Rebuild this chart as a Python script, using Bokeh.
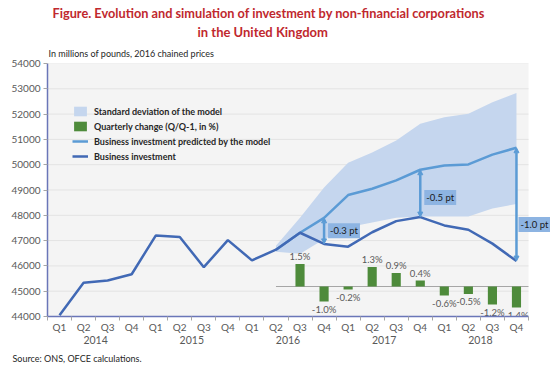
from bokeh.plotting import figure
from bokeh.models import (Range1d, LinearAxis, FixedTicker, Label, Arrow, NormalHead,
                          ColumnDataSource, Legend, LegendItem, Title)
from bokeh.embed import file_html
from bokeh.resources import INLINE
from bokeh.core.properties import value

# ---------------- data ----------------
years = ["2014", "2015", "2016", "2017", "2018"]
quarters = ["Q1", "Q2", "Q3", "Q4"]

investment = [44050, 45330, 45420, 45670, 47200, 47140, 45950, 47020,
              46220, 46640, 47310, 46870, 46760, 47330, 47770, 47930,
              47600, 47430, 46880, 46190]

pred_start = ("2016", "Q2")
predicted = [46640, 47310, 47900, 48800, 49050, 49380, 49800, 49970, 50010, 50400, 50670]
band_upper = [46800, 47900, 49100, 50080, 50480, 50960, 51620, 51880, 52010, 52470, 52830]
band_lower = [46560, 46480, 47050, 47530, 47720, 47900, 47950, 47950, 47950, 48270, 48450]

chg_start = ("2016", "Q3")
quarterly_change = [1.5, -1.0, -0.2, 1.3, 0.9, 0.4, -0.6, -0.5, -1.2, -1.4]

gap_periods = [("2016", "Q4"), ("2017", "Q4"), ("2018", "Q4")]
gap_labels = ["-0.3 pt", "-0.5 pt", "-1.0 pt"]

y_ticks = list(range(44000, 54001, 1000))

# ---------------- derived positions ----------------
periods = [(y, q) for y in years for q in quarters]
idx = list(range(len(periods)))
p0 = periods.index(pred_start)
pred_idx = idx[p0:p0 + len(predicted)]
c0 = periods.index(chg_start)
chg_idx = idx[c0:c0 + len(quarterly_change)]
x_lo, x_hi = -0.5, len(periods) - 0.5

FONT = "Lato"
GRAY = "#595959"
AXIS_BLUE = "#6a76b8"

W, H = 550, 369
LEFT, TOP, BOTTOM = 47, 63, 53
px_per_unit = 24.05
p = figure(width=W, height=H, output_backend="svg", toolbar_location=None,
           x_range=Range1d(x_lo, x_lo + (W - LEFT) / px_per_unit),
           y_range=Range1d(y_ticks[0], y_ticks[-1]),
           min_border_left=LEFT, min_border_right=0, min_border_top=TOP,
           min_border_bottom=BOTTOM,
           background_fill_color="white", border_fill_color="white",
           outline_line_color=None)
p.extra_y_ranges = {"chg": Range1d(-2.0, 14.87)}

# plot area background and grid (limited to the category span)
p.quad(left=x_lo, right=x_hi, bottom=y_ticks[0], top=y_ticks[-1],
       fill_color="#f4f4f4", line_color=None)
p.segment(x0=[x_lo] * len(y_ticks), x1=[x_hi] * len(y_ticks), y0=y_ticks, y1=y_ticks,
          line_color="#e3e3e3", line_width=1)
p.xgrid.visible = False
p.ygrid.visible = False

# x axis: quarters
xa = p.xaxis[0]
xa.bounds = (x_lo, x_hi)
xa.ticker = FixedTicker(ticks=idx, minor_ticks=[i - 0.5 for i in range(len(periods) + 1)])
xa.major_label_overrides = {i: q for i, (y, q) in enumerate(periods)}
xa.major_tick_out = 0
xa.major_tick_in = 0
xa.minor_tick_out = 4
xa.minor_tick_in = 0
xa.minor_tick_line_color = "#a6a6a6"
xa.axis_line_color = AXIS_BLUE
xa.axis_line_width = 1.5
xa.major_label_standoff = 0
xa.major_label_text_font = FONT
xa.major_label_text_font_size = "10px"
xa.major_label_text_color = GRAY

# second x axis: years
year_ticks = [years.index(y) * 4 + 1.5 for y in years]
ya2 = LinearAxis(ticker=FixedTicker(ticks=year_ticks),
                 major_label_overrides={t: y for t, y in zip(year_ticks, years)})
ya2.axis_line_color = None
ya2.major_tick_line_color = None
ya2.minor_tick_line_color = None
ya2.major_label_standoff = -6
ya2.major_label_text_font = FONT
ya2.major_label_text_font_size = "10.5px"
ya2.major_label_text_color = GRAY
p.add_layout(ya2, "below")

# y axis
yax = p.yaxis[0]
yax.ticker = FixedTicker(ticks=y_ticks)
yax.major_tick_out = 4
yax.major_tick_in = 0
yax.major_tick_line_color = "#a6a6a6"
yax.axis_line_color = AXIS_BLUE
yax.axis_line_width = 1.5
yax.major_label_standoff = 3
yax.major_label_text_font = FONT
yax.major_label_text_font_size = "10px"
yax.major_label_text_color = GRAY

# ---------------- glyphs ----------------
band = p.varea(x=pred_idx, y1=band_lower, y2=band_upper, fill_color="#c5d6ee")
p.line([pred_idx[0], x_hi], [0, 0], y_range_name="chg",
       line_color="#a6a6a6", line_width=1)
bars = p.vbar(x=chg_idx, top=quarterly_change, bottom=0, width=0.38, y_range_name="chg",
              fill_color="#4e8b3b", line_color=None)
pred_line = p.line(pred_idx, predicted, line_color="#5b9bd5", line_width=2.5)
act_line = p.line(idx, investment, line_color="#4169b5", line_width=2.5)

pos = [(x, v) for x, v in zip(chg_idx, quarterly_change) if v >= 0]
neg = [(x, v) for x, v in zip(chg_idx, quarterly_change) if v < 0]
for grp, base, off in ((pos, "bottom", -2), (neg, "top", 2)):
    src = ColumnDataSource(dict(x=[g[0] for g in grp], y=[g[1] for g in grp],
                                t=["%.1f%%" % g[1] for g in grp]))
    p.text(x="x", y="y", text="t", source=src, y_range_name="chg",
           text_align="center", text_baseline=base, y_offset=off,
           text_font=value(FONT), text_font_size="9.5px", text_color=GRAY)

# arrows + gap labels
label_dy = [0, -4, -20]
label_dx = [4, 4, 2]
for (per, lab, dy, dx) in zip(gap_periods, gap_labels, label_dy, label_dx):
    g = periods.index(per)
    a = investment[g]
    pr = predicted[g - p0]
    p.add_layout(Arrow(x_start=g, y_start=a, x_end=g, y_end=pr,
                       start=NormalHead(size=5, fill_color="#5b9bd5", line_color="#5b9bd5"),
                       end=NormalHead(size=5, fill_color="#5b9bd5", line_color="#5b9bd5"),
                       line_color="#5b9bd5", line_width=2.5))
    p.add_layout(Label(x=g, y=(a + pr) / 2, text=lab, x_offset=dx, y_offset=dy,
                       text_baseline="middle", text_font=FONT, text_font_size="9.5px",
                       text_color="#1a1a1a", background_fill_color="#8db4e2",
                       padding=2))

# legend
legend = Legend(items=[
    LegendItem(label="Standard deviation of the model", renderers=[band]),
    LegendItem(label="Quarterly change (Q/Q-1, in %)", renderers=[bars]),
    LegendItem(label="Business investment predicted by the model", renderers=[pred_line]),
    LegendItem(label="Business investment", renderers=[act_line]),
], location=(25, 154), padding=0, margin=0, spacing=3, glyph_height=12, glyph_width=16,
    label_height=12, label_standoff=6, label_text_font=FONT, label_text_font_style="bold",
    label_text_font_size="9px", label_text_color="#262626",
    background_fill_alpha=0, border_line_color=None)
p.add_layout(legend)

# titles and notes
RED = "#c0282e"
sub = Title(text="In millions of pounds, 2016 chained prices", align="left", offset=1,
            text_font=FONT, text_font_style="normal", text_font_size="9px",
            text_color="#262626", standoff=9)
t2 = Title(text="in the United Kingdom", align="left", offset=150,
           text_font=FONT, text_font_style="bold", text_font_size="13px",
           text_color=RED, standoff=3)
t1 = Title(text="Figure. Evolution and simulation of investment by non-financial corporations",
           align="left", offset=5, text_font=FONT, text_font_style="bold",
           text_font_size="12.75px", text_color=RED, standoff=0)
p.add_layout(sub, "above")
p.add_layout(t2, "above")
p.add_layout(t1, "above")
src_note = Title(text="Source: ONS, OFCE calculations.", align="left", offset=-35,
                 text_font=FONT, text_font_style="normal", text_font_size="9px",
                 text_color="#262626", standoff=9)
p.add_layout(src_note, "below")

open("out.html", "w").write(file_html(p, INLINE))
